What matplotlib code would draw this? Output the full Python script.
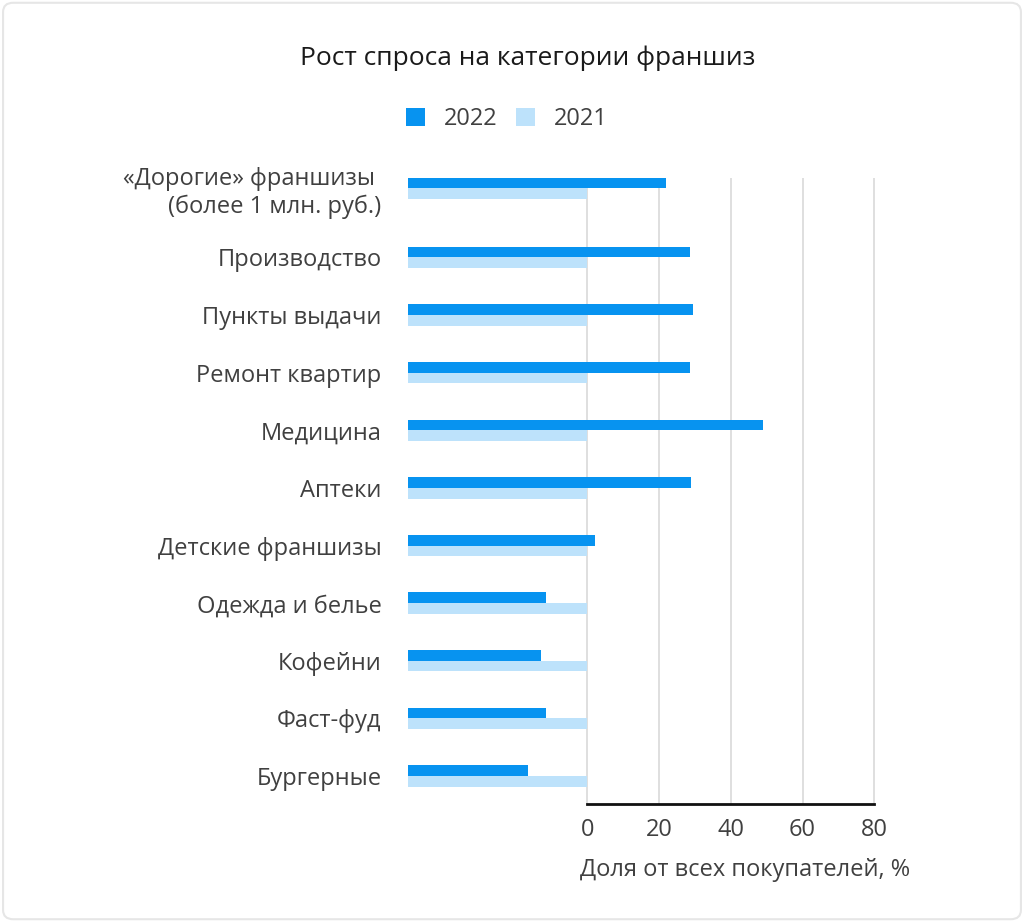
import matplotlib.pyplot as plt
import matplotlib as mpl
from matplotlib.patches import FancyBboxPatch
import numpy as np

# данные
categories = ['«Дорогие» франшизы \n(более 1 млн. руб.)', 'Производство', 'Пункты выдачи',
              'Ремонт квартир', 'Медицина', 'Аптеки', 'Детские франшизы',
              'Одежда и белье', 'Кофейни', 'Фаст-фуд', 'Бургерные']
values_2022 = [22, 28.6, 29.5, 28.6, 49, 29, 2, -11.5, -13, -11.5, -16.5]
values_2021 = [0, 0, 0, 0, 0, 0, 0, 0, 0, 0, 0]
x_ticks = [0, 20, 40, 60, 80]

mpl.rcParams['font.family'] = ['Open Sans', 'DejaVu Sans']

c2022 = '#0793f0'
c2021 = '#bde2fb'
text_col = '#404040'
base = -50

fig = plt.figure(figsize=(10.24, 9.22), dpi=100)
ax = fig.add_axes([408 / 1024, 0.128, (875 - 408) / 1024, 0.807 - 0.128])

n = len(categories)
pos = np.arange(n)[::-1].astype(float)
pos[0] += 0.2  # первая подпись в две строки
h = 0.186

ax.barh(pos + h / 2, np.array(values_2022) - base, left=base, height=h,
        color=c2022, label='2022', zorder=3)
ax.barh(pos - h / 2, np.array(values_2021) - base, left=base, height=h,
        color=c2021, label='2021', zorder=3)

ax.set_xlim(base, 80.2)
ax.set_ylim(-0.486, 10.38)
ax.set_xticks(x_ticks)
ax.set_xticklabels([str(t) for t in x_ticks], fontsize=17, color=text_col)
ax.set_yticks(pos)
ax.set_yticklabels(categories, fontsize=17, color=text_col, ha='right')
ax.tick_params(axis='both', length=0)
ax.tick_params(axis='y', pad=19)
ax.tick_params(axis='x', pad=10)

for t in x_ticks:
    ax.axvline(t, color='#dcdcdc', lw=1.3, zorder=1)

for s in ['top', 'right', 'left']:
    ax.spines[s].set_visible(False)
ax.spines['bottom'].set_bounds(0, 80)
ax.spines['bottom'].set_linewidth(2)
ax.spines['bottom'].set_color('#111111')

fig.text(528 / 1024, 1 - 58 / 922, 'Рост спроса на категории франшиз',
         ha='center', va='center', fontsize=19, color='#1a1a1a')
fig.text(745 / 1024, 1 - 870 / 922, 'Доля от всех покупателей, %',
         ha='center', va='center', fontsize=17, color=text_col)

leg = fig.legend(loc='center', bbox_to_anchor=(507 / 1024, 1 - 119 / 922), ncol=2,
                 frameon=False, fontsize=17, handlelength=0.8, handleheight=0.8,
                 columnspacing=0.8, handletextpad=0.8)
for t in leg.get_texts():
    t.set_color(text_col)

fig.patches.append(FancyBboxPatch((0.003, 0.003), 0.994, 0.994,
                                  boxstyle='round,pad=0,rounding_size=0.01',
                                  transform=fig.transFigure, fill=False,
                                  edgecolor='#e6e6e6', lw=1.5))

plt.savefig('out.png', dpi=100)
